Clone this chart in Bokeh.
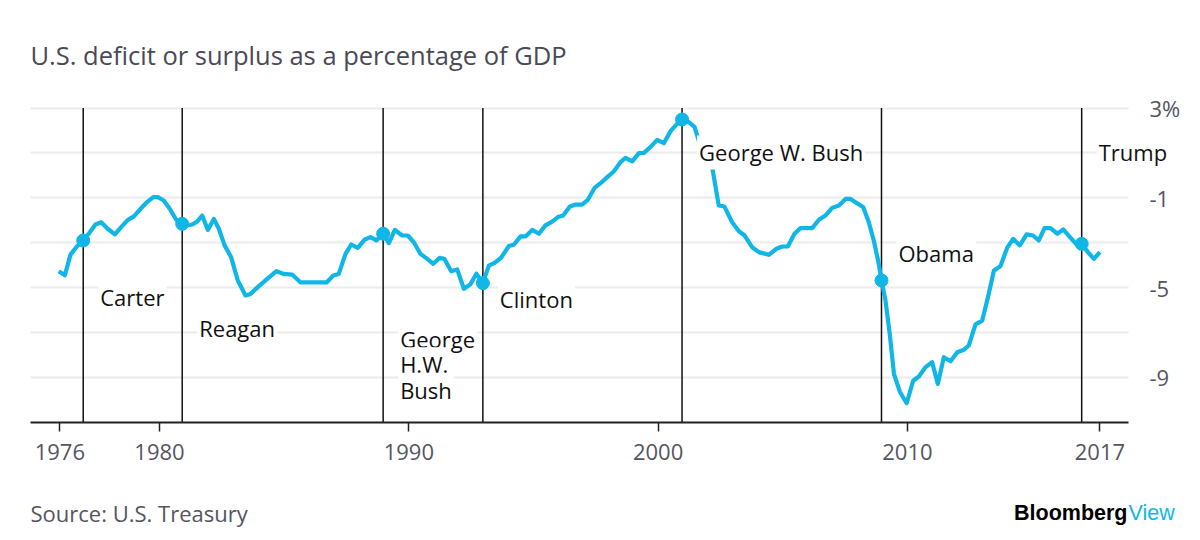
from bokeh.plotting import figure
from bokeh.models import Label, FixedTicker, Range1d
from bokeh.embed import file_html
from bokeh.resources import INLINE

# ---------------- data ----------------
years = [
    1975.96, 1976.20, 1976.43, 1976.70, 1976.94, 1977.16, 1977.43, 1977.66, 1977.92,
    1978.21, 1978.46, 1978.73, 1978.97, 1979.24, 1979.50, 1979.75, 1979.93, 1980.17,
    1980.41, 1980.67, 1980.91, 1981.11, 1981.31, 1981.51, 1981.71, 1981.94, 1982.18,
    1982.38, 1982.61, 1982.87, 1983.14, 1983.45, 1983.65, 1983.92, 1984.25, 1984.69,
    1984.99, 1985.32, 1985.66, 1986.19, 1986.70, 1986.97, 1987.19, 1987.46, 1987.69,
    1987.95, 1988.22, 1988.46, 1988.70, 1988.97, 1989.20, 1989.44, 1989.73, 1989.96,
    1990.20, 1990.47, 1990.74, 1990.98, 1991.24, 1991.43, 1991.70, 1991.94, 1992.21,
    1992.47, 1992.71, 1992.97, 1993.21, 1993.44, 1993.70, 1994.01, 1994.21, 1994.48,
    1994.68, 1994.95, 1995.22, 1995.48, 1995.75, 1995.98, 1996.19, 1996.46, 1996.69,
    1996.95, 1997.18, 1997.45, 1997.69, 1997.96, 1998.22, 1998.49, 1998.69, 1998.96,
    1999.23, 1999.43, 1999.69, 1999.96, 2000.23, 2000.50, 2000.74, 2000.96, 2001.19,
    2001.46, 2001.65, 2001.90, 2002.17, 2002.43, 2002.66, 2002.97, 2003.24, 2003.47,
    2003.77, 2004.04, 2004.44, 2004.75, 2004.98, 2005.20, 2005.47, 2005.71, 2005.95,
    2006.18, 2006.45, 2006.71, 2006.98, 2007.25, 2007.52, 2007.72, 2007.98, 2008.23,
    2008.45, 2008.65, 2008.85, 2008.96, 2009.12, 2009.29, 2009.46, 2009.70, 2009.97,
    2010.23, 2010.46, 2010.73, 2010.99, 2011.22, 2011.46, 2011.73, 2012.00, 2012.26,
    2012.46, 2012.73, 2013.00, 2013.23, 2013.47, 2013.73, 2014.00, 2014.24, 2014.51,
    2014.78, 2015.04, 2015.27, 2015.50, 2015.74, 2016.01, 2016.25, 2016.52, 2016.79,
    2016.99, 2017.24, 2017.48, 2017.72,
]
deficit = [
    -4.27, -4.45, -3.53, -3.15, -2.90, -2.60, -2.19, -2.09, -2.38,
    -2.63, -2.31, -1.98, -1.83, -1.49, -1.19, -0.97, -0.97, -1.12,
    -1.49, -1.98, -2.16, -2.23, -2.19, -2.06, -1.79, -2.43, -1.94,
    -2.38, -3.12, -3.64, -4.68, -5.35, -5.28, -5.00, -4.68, -4.27,
    -4.39, -4.42, -4.77, -4.77, -4.77, -4.46, -4.39, -3.50, -3.08,
    -3.23, -2.87, -2.75, -2.90, -2.60, -3.02, -2.43, -2.68, -2.68,
    -2.98, -3.50, -3.72, -3.94, -3.67, -3.73, -4.27, -4.19, -5.05,
    -4.85, -4.38, -4.80, -4.02, -3.90, -3.67, -3.15, -3.09, -2.72,
    -2.72, -2.43, -2.60, -2.23, -2.06, -1.86, -1.79, -1.39, -1.30,
    -1.30, -1.09, -0.56, -0.35, -0.08, 0.17, 0.59, 0.78, 0.62,
    0.99, 1.00, 1.26, 1.58, 1.43, 1.97, 2.27, 2.49, 2.40,
    2.16, 1.48, 0.81, 0.36, -1.34, -1.39, -2.09, -2.49, -2.68,
    -3.20, -3.42, -3.54, -3.27, -3.17, -3.17, -2.60, -2.35, -2.35,
    -2.35, -1.98, -1.79, -1.45, -1.34, -1.05, -1.05, -1.24, -1.42,
    -2.09, -2.90, -3.94, -4.68, -5.57, -7.06, -8.84, -9.65, -10.15,
    -9.15, -8.96, -8.54, -8.32, -9.29, -8.10, -8.28, -7.88, -7.77,
    -7.58, -6.64, -6.47, -5.43, -4.24, -4.05, -3.23, -2.83, -3.12,
    -2.63, -2.68, -2.90, -2.35, -2.35, -2.60, -2.41, -2.75, -3.09,
    -3.05, -3.42, -3.72, -3.42,
]
inauguration_years = [1977, 1981, 1989, 1993, 2001, 2009, 2017]
presidents = ["Carter", "Reagan", "George\nH.W.\nBush", "Clinton",
              "George W. Bush", "Obama", "Trump"]
x_tick_years = [1976, 1980, 1990, 2000, 2010]
x_tick_labels = ["1976", "1980", "1990", "2000", "2010", "2017"]
y_tick_values = [3, -1, -5, -9]
y_tick_labels = ["3%", "-1", "-5", "-9"]
grid_values = [3, 1, -1, -3, -5, -7, -9]
y_floor = -11

title_text = "U.S. deficit or surplus as a percentage of GDP"
source_text = "Source: U.S. Treasury"

# ---------------- layout / style ----------------
CYAN = "#0fb6e6"
FONT = "Open Sans"
W, H = 1200, 540
# page-pixel calibration of the plot area
PX_1976, PX_PER_YEAR = 59.3, 24.93
PY_TOP_GRID, PX_PER_UNIT = 107.5, 22.45
PLOT_LEFT_PX, PLOT_RIGHT_PX = 30, 1128
TEXT_SHIFT = 0.40   # label baseline correction, value units

# label vertical placement (value units)
label_y = [-5.80, -7.18, -7.67, -5.93, 0.62, -3.84, 0.62]


def xd(px):
    return 1976 + (px - PX_1976) / PX_PER_YEAR


def yd(py):
    return grid_values[0] - (py - PY_TOP_GRID) / PX_PER_UNIT


X_START, X_AXIS_END = xd(PLOT_LEFT_PX), xd(PLOT_RIGHT_PX)

p = figure(width=W, height=H, x_range=Range1d(xd(0), xd(W)),
           y_range=Range1d(yd(H), yd(0)), y_axis_location="right",
           toolbar_location=None, output_backend="svg",
           min_border=0, min_border_left=0, min_border_right=0,
           min_border_top=0, min_border_bottom=0)
p.outline_line_color = None
p.background_fill_color = "white"
p.border_fill_color = "white"

p.xgrid.visible = False
p.ygrid.ticker = FixedTicker(ticks=grid_values)
p.ygrid.grid_line_color = "#ebebeb"
p.ygrid.grid_line_width = 2
p.ygrid.cross_bounds = (X_START, X_AXIS_END)

yax = p.yaxis[0]
yax.fixed_location = X_AXIS_END
yax.ticker = FixedTicker(ticks=y_tick_values)
yax.major_label_overrides = {v: t for v, t in zip(y_tick_values, y_tick_labels)}
yax.axis_line_color = None
yax.major_tick_line_color = None
yax.minor_tick_line_color = None
yax.major_label_standoff = 15
yax.major_label_text_font = FONT
yax.major_label_text_font_size = "22px"
yax.major_label_text_color = "#55555f"

last_x = years[-1]
xticks = x_tick_years + [last_x]
xax = p.xaxis[0]
xax.fixed_location = y_floor
xax.bounds = (X_START, X_AXIS_END)
xax.ticker = FixedTicker(ticks=xticks)
xax.major_label_overrides = {v: t for v, t in zip(xticks, x_tick_labels)}
xax.axis_line_color = "#222222"
xax.axis_line_width = 2
xax.major_tick_line_color = "#222222"
xax.major_tick_line_width = 1.5
xax.major_tick_out = 9
xax.major_tick_in = 0
xax.minor_tick_line_color = None
xax.major_label_standoff = 13
xax.major_label_text_font = FONT
xax.major_label_text_font_size = "22px"
xax.major_label_text_color = "#55555f"

# inauguration points: nearest data point
idx = [min(range(len(years)), key=lambda i: abs(years[i] - y)) for y in inauguration_years]
ix = [years[i] for i in idx]
iy = [deficit[i] for i in idx]

p.segment(x0=ix, y0=[grid_values[0]] * len(ix), x1=ix, y1=[y_floor] * len(ix),
          line_color="#111111", line_width=1.5)
p.line(years, deficit, line_color=CYAN, line_width=4.2, line_join="round")
p.scatter(ix, iy, size=13, color=CYAN)

for x, yv, name in zip(ix, label_y, presidents):
    for k, ln in enumerate(name.split("\n")):
        p.add_layout(Label(x=x, y=yv - k * 1.14 + TEXT_SHIFT, x_offset=15, text=ln,
                           text_font=FONT, text_font_size="22px",
                           text_color="#111111", text_baseline="alphabetic",
                           background_fill_color="white", padding=2))

p.add_layout(Label(x=xd(30), y=yd(63) + TEXT_SHIFT, text=title_text, text_font=FONT,
                   text_font_size="25.5px", text_color="#4a4a56",
                   text_baseline="alphabetic"))
p.add_layout(Label(x=xd(30), y=yd(521) + TEXT_SHIFT, text=source_text, text_font=FONT,
                   text_font_size="22px", text_color="#55555f",
                   text_baseline="alphabetic"))
p.add_layout(Label(x=xd(1127), y=yd(521) + TEXT_SHIFT, text="Bloomberg",
                   text_font="Liberation Sans", text_font_size="21.5px",
                   text_font_style="bold", text_color="#000000",
                   text_align="right", text_baseline="alphabetic"))
p.add_layout(Label(x=xd(1128), y=yd(521) + TEXT_SHIFT, text="View",
                   text_font="Liberation Sans", text_font_size="21.5px",
                   text_color=CYAN, text_align="left", text_baseline="alphabetic"))

open("out.html", "w").write(file_html(p, INLINE))
